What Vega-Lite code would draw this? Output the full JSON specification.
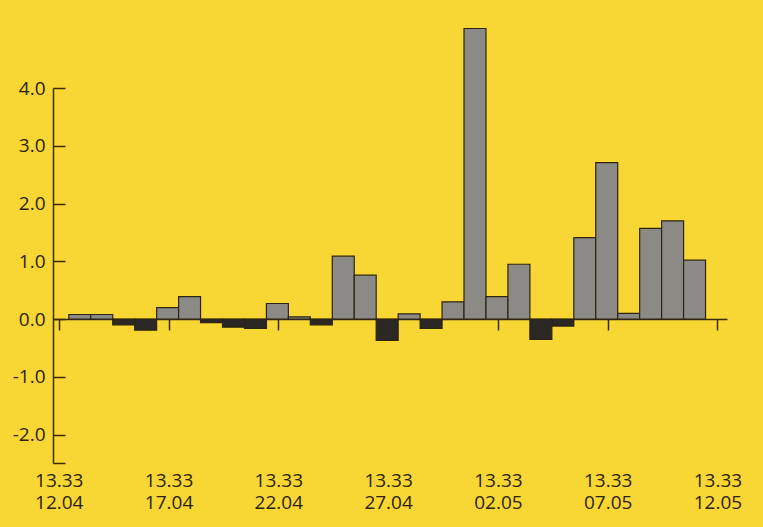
{
  "$schema": "https://vega.github.io/schema/vega-lite/v6.json",
  "width": 674,
  "height": 375,
  "autosize": {"type": "none"},
  "padding": {"left": 53, "top": 88, "right": 36, "bottom": 64},
  "background": "#f8d633",
  "config": {
    "view": {"stroke": null},
    "font": "Open Sans",
    "axis": {
      "domainColor": "#3a2a10",
      "domainWidth": 1.5,
      "tickColor": "#3a2a10",
      "tickWidth": 1.5,
      "labelColor": "#2e2210",
      "labelFont": "Open Sans",
      "labelFontSize": 19,
      "labelFontWeight": 500,
      "grid": false,
      "title": null
    }
  },
  "data": {
    "values": [
      {"date": "2021-04-13", "value": 0.08},
      {"date": "2021-04-14", "value": 0.08},
      {"date": "2021-04-15", "value": -0.10},
      {"date": "2021-04-16", "value": -0.19},
      {"date": "2021-04-17", "value": 0.20},
      {"date": "2021-04-18", "value": 0.39},
      {"date": "2021-04-19", "value": -0.06},
      {"date": "2021-04-20", "value": -0.14},
      {"date": "2021-04-21", "value": -0.16},
      {"date": "2021-04-22", "value": 0.27},
      {"date": "2021-04-23", "value": 0.04},
      {"date": "2021-04-24", "value": -0.10},
      {"date": "2021-04-25", "value": 1.09},
      {"date": "2021-04-26", "value": 0.76},
      {"date": "2021-04-27", "value": -0.37},
      {"date": "2021-04-28", "value": 0.09},
      {"date": "2021-04-29", "value": -0.16},
      {"date": "2021-04-30", "value": 0.30},
      {"date": "2021-05-01", "value": 5.03},
      {"date": "2021-05-02", "value": 0.39},
      {"date": "2021-05-03", "value": 0.95},
      {"date": "2021-05-04", "value": -0.35},
      {"date": "2021-05-05", "value": -0.12},
      {"date": "2021-05-06", "value": 1.41},
      {"date": "2021-05-07", "value": 2.71},
      {"date": "2021-05-08", "value": 0.10},
      {"date": "2021-05-09", "value": 1.57},
      {"date": "2021-05-10", "value": 1.70},
      {"date": "2021-05-11", "value": 1.02}
    ]
  },
  "mark": {"type": "bar", "clip": false, "binSpacing": 0, "stroke": "#2e2410", "strokeWidth": 1.2},
  "encoding": {
    "x": {
      "field": "date",
      "type": "temporal",
      "timeUnit": "utcyearmonthdate",
      "scale": {
        "domain": [
          {"year": 2021, "month": 4, "date": 12, "hours": 7, "minutes": 16, "utc": true},
          {"year": 2021, "month": 5, "date": 13, "hours": 0, "minutes": 0, "utc": true}
        ]
      },
      "axis": {
        "orient": "bottom",
        "offset": -144,
        "tickSize": 11,
        "labelPadding": 141,
        "labelLineHeight": 22.6,
        "labelFlush": false,
        "labelOverlap": false,
        "labelExpr": "[utcFormat(datum.value, '%H.%M'), utcFormat(datum.value, '%d.%m')]",
        "values": [
          {"year": 2021, "month": 4, "date": 12, "hours": 13, "minutes": 33, "utc": true},
          {"year": 2021, "month": 4, "date": 17, "hours": 13, "minutes": 33, "utc": true},
          {"year": 2021, "month": 4, "date": 22, "hours": 13, "minutes": 33, "utc": true},
          {"year": 2021, "month": 4, "date": 27, "hours": 13, "minutes": 33, "utc": true},
          {"year": 2021, "month": 5, "date": 2, "hours": 13, "minutes": 33, "utc": true},
          {"year": 2021, "month": 5, "date": 7, "hours": 13, "minutes": 33, "utc": true},
          {"year": 2021, "month": 5, "date": 12, "hours": 13, "minutes": 33, "utc": true}
        ]
      }
    },
    "y": {
      "field": "value",
      "type": "quantitative",
      "scale": {"domain": [-2.49, 4], "nice": false, "zero": false},
      "axis": {
        "values": [-2.49, -2, -1, 0, 1, 2, 3, 4],
        "tickSize": -12,
        "labelPadding": 20,
        "labelExpr": "datum.value < -2.2 ? '' : (datum.value < 0 ? '-' : '') + format(abs(datum.value), '.1f')"
      }
    },
    "y2": {"datum": 0},
    "fill": {
      "condition": {"test": "datum.value < 0", "value": "#2b2724"},
      "value": "#8b8a87"
    }
  }
}
